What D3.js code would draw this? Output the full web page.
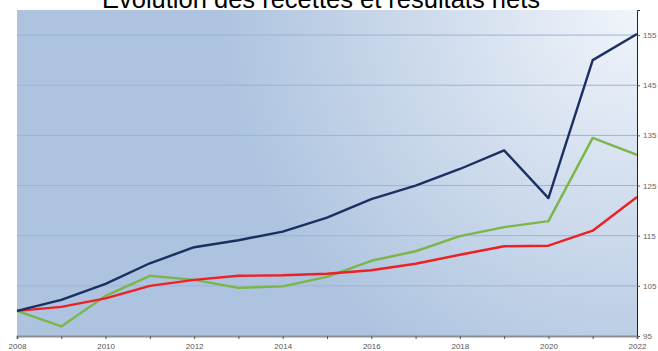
<!DOCTYPE html>
<html>
<head>
<meta charset="utf-8">
<script src="https://cdn.jsdelivr.net/npm/d3@7"></script>
<style>
  body { margin: 0; background: #fff; }
  svg { display: block; font-family: "Liberation Sans", Arial, sans-serif; }
</style>
</head>
<body>
<div id="chart"></div>
<script>
var years = [2008, 2009, 2010, 2011, 2012, 2013, 2014, 2015, 2016, 2017, 2018, 2019, 2020, 2021, 2022];
var blueValues = [100, 102.2, 105.4, 109.5, 112.7, 114.1, 115.8, 118.6, 122.3, 125, 128.3, 132, 122.5, 150, 155.2];
var greenValues = [100, 96.9, 103, 107, 106.2, 104.6, 104.9, 106.8, 110, 111.9, 114.9, 116.7, 117.9, 134.5, 131.1];
var redValues = [100, 100.8, 102.5, 105, 106.2, 107, 107.1, 107.4, 108.1, 109.4, 111.2, 112.9, 113, 116, 122.7];
var yTicks = [95, 105, 115, 125, 135, 145, 155];
var xLabels = [2008, 2010, 2012, 2014, 2016, 2018, 2020, 2022];

var width = 658, height = 351;
// "top" is taken by window.top, so use m.* for the plot box
var m = { left: 17, right: 637, top: 10, bottom: 336 };

var svg = d3.select("#chart").append("svg")
    .attr("width", width)
    .attr("height", height);

var defs = svg.append("defs");
var grad = defs.append("radialGradient")
    .attr("id", "bg")
    .attr("gradientUnits", "userSpaceOnUse")
    .attr("cx", m.right).attr("cy", m.top)
    .attr("r", 420);
grad.append("stop").attr("offset", "0%").attr("stop-color", "#f1f5fb");
grad.append("stop").attr("offset", "45%").attr("stop-color", "#d2deee");
grad.append("stop").attr("offset", "100%").attr("stop-color", "#adc3df");

var x = d3.scaleLinear().domain([2008, 2022]).range([m.left, m.right]);
var y = d3.scaleLinear().domain([95, 160]).range([m.bottom, m.top]);

svg.append("rect")
    .attr("x", m.left).attr("y", m.top)
    .attr("width", m.right - m.left).attr("height", m.bottom - m.top)
    .attr("fill", "url(#bg)");

// grid
svg.append("g").selectAll("line")
    .data(yTicks.slice(1))
    .enter().append("line")
    .attr("x1", m.left).attr("x2", m.right)
    .attr("y1", function(d) { return y(d); })
    .attr("y2", function(d) { return y(d); })
    .attr("stroke", "#9cb4d3")
    .attr("stroke-width", 1);

// title (cut at the top in the original too)
svg.append("text")
    .attr("x", 321).attr("y", 8)
    .attr("text-anchor", "middle")
    .attr("font-size", "25px")
    .attr("textLength", 438)
    .attr("lengthAdjust", "spacingAndGlyphs")
    .attr("fill", "#000")
    .text("Évolution des recettes et résultats nets");

// lines
var line = d3.line()
    .x(function(d, i) { return x(years[i]); })
    .y(function(d) { return y(d); });

var series = [
  { values: greenValues, color: "#7ab648" },
  { values: redValues, color: "#ee2024" },
  { values: blueValues, color: "#1b2f63" }
];

svg.append("g").selectAll("path")
    .data(series)
    .enter().append("path")
    .attr("d", function(d) { return line(d.values); })
    .attr("fill", "none")
    .attr("stroke", function(d) { return d.color; })
    .attr("stroke-width", 2.4)
    .attr("stroke-linejoin", "round");

// bottom axis
var xAxis = d3.axisBottom(x)
    .tickValues(years)
    .tickSize(3)
    .tickFormat(function(d) { return xLabels.indexOf(d) >= 0 ? d : ""; });

var gx = svg.append("g")
    .attr("transform", "translate(0," + m.bottom + ")")
    .call(xAxis);
gx.select(".domain").attr("stroke", "#8a8f96").attr("stroke-width", 2);
gx.selectAll(".tick line").attr("stroke", "#555");
gx.selectAll(".tick text")
    .attr("fill", "#555")
    .attr("font-size", "8px")
    .attr("y", 7);

// right axis
var yAxis = d3.axisRight(y)
    .tickValues(yTicks)
    .tickSize(3)
    .tickFormat(d3.format("d"));

var gy = svg.append("g")
    .attr("transform", "translate(" + m.right + ",0)")
    .call(yAxis);
gy.select(".domain").attr("stroke", "#222").attr("stroke-width", 1);
gy.selectAll(".tick line").attr("stroke", "#555");
gy.selectAll(".tick text")
    .attr("fill", "#666")
    .attr("font-size", "8px")
    .attr("x", 6);
</script>
</body>
</html>
